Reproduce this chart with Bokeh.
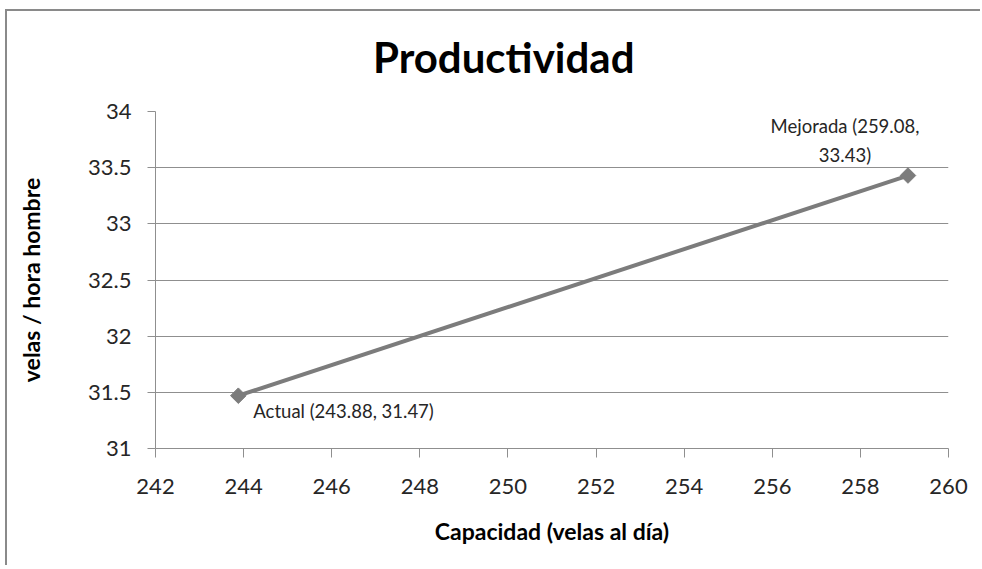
from bokeh.plotting import figure
from bokeh.layouts import column
from bokeh.models import Range1d, FixedTicker, Div, GlobalInlineStyleSheet
from bokeh.core.properties import value
from bokeh.embed import file_html
from bokeh.resources import INLINE
import numpy as np

# Productivity of the current and the improved process
names = ["Actual", "Mejorada"]
capacidad = [243.88, 259.08]          # velas al día
productividad = [31.47, 33.43]        # velas / hora hombre

x_ticks = [242, 244, 246, 248, 250, 252, 254, 256, 258, 260]
y_ticks = [31, 31.5, 32, 32.5, 33, 33.5, 34]
y_tick_labels = ["31", "31.5", "32", "32.5", "33", "33.5", "34"]

FONT = "Lato"
TEXT = "#262626"
GRID = "#8f8f8f"
W = 973

# chart title as a header block above the plot
title = Div(
    text='<div style="font-family: Lato; font-weight: bold; font-size: 42px; '
         'line-height: 42px; margin: 25px 0 0 366px; white-space: nowrap; '
         'color: black;">Productividad</div>',
    width=W, height=80, margin=0)

p = figure(width=W, height=474, output_backend="svg", toolbar_location=None,
           x_range=Range1d(242, 260), y_range=Range1d(31, 34),
           min_border_left=148, min_border_right=32,
           min_border_top=20, min_border_bottom=117, margin=0)
p.outline_line_color = None
p.background_fill_color = "white"
p.border_fill_color = "white"

# axes
for ax in (p.xaxis[0], p.yaxis[0]):
    ax.axis_line_color = GRID
    ax.major_tick_line_color = GRID
    ax.minor_tick_line_color = None
    ax.major_tick_in = 0
    ax.major_label_text_font = FONT
    ax.major_label_text_font_size = "22px"
    ax.major_label_text_color = TEXT
    ax.axis_label_text_font = FONT
    ax.axis_label_text_font_style = "bold"
    ax.axis_label_text_font_size = "23px"
    ax.axis_label_text_color = "black"

p.xaxis.ticker = FixedTicker(ticks=x_ticks)
p.xaxis.major_label_overrides = {t: str(t) for t in x_ticks}
p.xaxis.major_tick_out = 9
p.xaxis.major_label_standoff = 21
p.xaxis.axis_label = "Capacidad (velas al día)"
p.xaxis.axis_label_standoff = 20

p.yaxis.ticker = FixedTicker(ticks=y_ticks)
p.yaxis.major_label_overrides = dict(zip(y_ticks, y_tick_labels))
p.yaxis.major_tick_out = 8
p.yaxis.major_label_standoff = 16
p.yaxis.axis_label = "velas / hora hombre"
p.yaxis.axis_label_standoff = 40

p.xgrid.grid_line_color = None
p.ygrid.grid_line_color = GRID
p.ygrid.grid_line_width = 1

# series
p.line(capacidad, productividad, line_color="#7c7c7c", line_width=4)
p.scatter(capacidad, productividad, marker="square", angle=np.pi / 4, size=11,
          fill_color="#7c7c7c", line_color="#7c7c7c")

# data labels
labels = [f"{n} ({x:.2f}, {y:.2f})" for n, x, y in zip(names, capacidad, productividad)]
p.text([capacidad[0]], [productividad[0]], text=[labels[0]],
       text_font=value(FONT), text_font_size="18.5px", text_color=TEXT,
       text_align="left", text_baseline="middle", x_offset=15, y_offset=15)
p.text([capacidad[1]], [productividad[1]], text=[labels[1].replace(", ", ",\n")],
       text_font=value(FONT), text_font_size="18.5px", text_color=TEXT,
       text_align="center", text_baseline="middle", x_offset=-63, y_offset=-35,
       text_line_height=1.3)

chart = column(title, p, spacing=0)
chart.styles = {"margin-left": "5px", "margin-top": "9px",
                "border-left": "2px solid #8a8a8a", "border-top": "2px solid #8a8a8a"}
chart.stylesheets = [GlobalInlineStyleSheet(
    css="html, body { overflow: hidden !important; scrollbar-width: none; }"
        " ::-webkit-scrollbar { display: none; width: 0; height: 0; }")]

open("out.html", "w").write(file_html(chart, INLINE))
